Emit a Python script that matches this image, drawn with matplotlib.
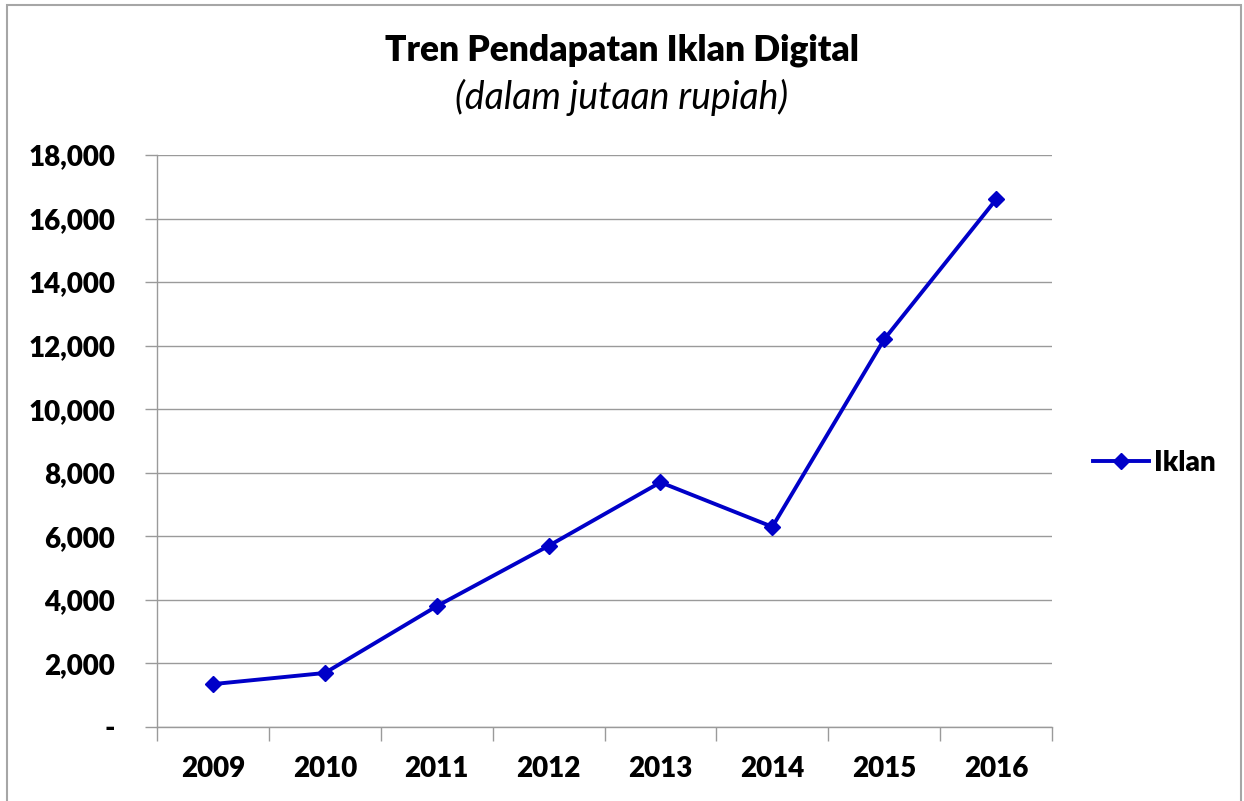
import matplotlib.pyplot as plt
from matplotlib.patches import Rectangle
from matplotlib.ticker import FuncFormatter, FixedLocator, NullFormatter

years = ["2009", "2010", "2011", "2012", "2013", "2014", "2015", "2016"]
iklan = [1350, 1700, 3800, 5700, 7700, 6300, 12200, 16600]
y_ticks = list(range(0, 18001, 2000))

plt.rcParams['font.family'] = ['Lato', 'DejaVu Sans']

line_color = '#0000c8'
grid_color = '#9a9a9a'
bold = 'heavy'

fig = plt.figure(figsize=(12.44, 8.01), dpi=100)
ax = fig.add_axes([157 / 1244, 1 - 727 / 801, (1052 - 157) / 1244, (727 - 155) / 801])

x = range(len(years))
ax.plot(x, iklan, color=line_color, lw=2.8, marker='D', ms=8,
        markerfacecolor=line_color, markeredgecolor=line_color, label='Iklan')

ax.set_xlim(-0.5, len(years) - 0.5)
ax.set_ylim(0, 18000)
ax.set_yticks(y_ticks)
ax.yaxis.set_major_formatter(FuncFormatter(lambda v, p: '-' if v == 0 else f'{int(v):,}'))
ax.grid(axis='y', color=grid_color, lw=1)
ax.set_axisbelow(True)

# category ticks sit on the boundaries, labels in the middle
ax.xaxis.set_major_locator(FixedLocator([i - 0.5 for i in range(len(years) + 1)]))
ax.xaxis.set_major_formatter(NullFormatter())
ax.set_xticks(list(x), minor=True)
ax.set_xticklabels(years, minor=True, fontsize=20, fontweight=bold)
ax.tick_params(axis='x', which='minor', length=0, pad=21)
ax.tick_params(axis='x', which='major', length=10, width=1, color=grid_color, direction='out')
ax.tick_params(axis='y', length=9, width=1, color=grid_color, labelsize=20, pad=21)
for lbl in ax.get_yticklabels():
    lbl.set_fontweight(bold)

for side in ['top', 'right']:
    ax.spines[side].set_visible(False)
for side in ['left', 'bottom']:
    ax.spines[side].set_color(grid_color)
    ax.spines[side].set_linewidth(1)

leg = ax.legend(loc='center left', bbox_to_anchor=(1.046, 0.4615), frameon=False,
                prop={'size': 20, 'weight': bold}, handlelength=2.0, handletextpad=0.2,
                borderpad=0, borderaxespad=0)

fig.text(0.5, 1 - 50 / 801, 'Tren Pendapatan Iklan Digital', ha='center', va='center',
         fontsize=25.5, fontweight=bold)
fig.text(0.5, 1 - 97 / 801, '(dalam jutaan rupiah)', ha='center', va='center',
         fontsize=27, fontstyle='italic')

# outer chart border
fig.patches.append(Rectangle((7 / 1244, -0.01), (1241 - 7) / 1244, 1 - 5 / 801 + 0.01,
                             transform=fig.transFigure, fill=False,
                             edgecolor='#a6a6a6', lw=1.5))

fig.savefig('out.png', dpi=100)
